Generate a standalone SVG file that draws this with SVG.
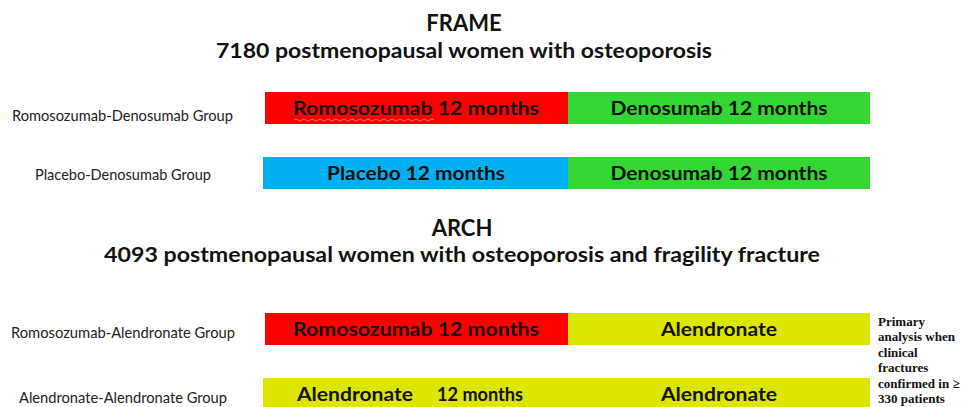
<svg xmlns="http://www.w3.org/2000/svg" width="962" height="407" viewBox="0 0 962 407">
<style>
.h{font-family:Lato,"Open Sans",sans-serif;font-weight:bold;fill:#111;text-anchor:middle}
.b{font-family:Lato,"Open Sans",sans-serif;font-weight:bold;font-size:19px;fill:#111;text-anchor:middle}
.l{font-family:Lato,"Open Sans",sans-serif;font-size:15px;fill:#222}
.n{font-family:"Liberation Serif",serif;font-weight:bold;font-size:13px;fill:#111}
</style>
<rect width="962" height="407" fill="#fff"/>
<g id="frame-title">
<text class="h" x="464" y="31" font-size="22">FRAME</text>
<text class="h" x="464" y="58" font-size="21" textLength="496" lengthAdjust="spacingAndGlyphs">7180 postmenopausal women with osteoporosis</text>
</g>
<g id="arch-title">
<text class="h" x="462" y="236" font-size="22">ARCH</text>
<text class="h" x="462" y="262" font-size="21" textLength="716" lengthAdjust="spacingAndGlyphs">4093 postmenopausal women with osteoporosis and fragility fracture</text>
</g>
<g id="row-romo-deno">
<text class="l" x="12" y="121" textLength="221" lengthAdjust="spacingAndGlyphs">Romosozumab-Denosumab Group</text>
<rect x="265" y="92" width="303" height="32" fill="#ff0000"/>
<rect x="568" y="92" width="302" height="32" fill="#33d633"/>
<text class="b" x="416" y="115" textLength="246" lengthAdjust="spacingAndGlyphs">Romosozumab 12 months</text>
<path d="M294 120 q2 -2 4 0 t4 0 t4 0 t4 0 t4 0 t4 0 t4 0 t4 0 t4 0 t4 0 t4 0 t4 0 t4 0 t4 0 t4 0 t4 0 t4 0 t4 0 t4 0 t4 0 t4 0 t4 0 t4 0 t4 0 t4 0 t4 0 t4 0 t4 0 t4 0 t4 0 t4 0 t4 0 t4 0 t4 0 t4 0" fill="none" stroke="#e87a7a" stroke-width="1"/>
<text class="b" x="719" y="115" textLength="217" lengthAdjust="spacingAndGlyphs">Denosumab 12 months</text>
</g>
<g id="row-placebo-deno">
<text class="l" x="35" y="180" textLength="176" lengthAdjust="spacingAndGlyphs">Placebo-Denosumab Group</text>
<rect x="263" y="157" width="305" height="32" fill="#00b0f0"/>
<rect x="568" y="157" width="302" height="32" fill="#33d633"/>
<text class="b" x="416" y="180" textLength="178" lengthAdjust="spacingAndGlyphs">Placebo 12 months</text>
<text class="b" x="719" y="180" textLength="217" lengthAdjust="spacingAndGlyphs">Denosumab 12 months</text>
</g>
<g id="row-romo-alen">
<text class="l" x="11" y="338" textLength="224" lengthAdjust="spacingAndGlyphs">Romosozumab-Alendronate Group</text>
<rect x="265" y="313" width="303" height="32" fill="#ff0000"/>
<rect x="568" y="313" width="302" height="32" fill="#dce600"/>
<text class="b" x="416" y="336" textLength="246" lengthAdjust="spacingAndGlyphs">Romosozumab 12 months</text>
<text class="b" x="719" y="336" textLength="116" lengthAdjust="spacingAndGlyphs">Alendronate</text>
</g>
<g id="row-alen-alen">
<text class="l" x="19" y="403" textLength="208" lengthAdjust="spacingAndGlyphs">Alendronate-Alendronate Group</text>
<rect x="263" y="378" width="607" height="32" fill="#dce600"/>
<text class="b" x="355" y="401" textLength="116" lengthAdjust="spacingAndGlyphs">Alendronate</text>
<text class="b" x="480" y="401" textLength="86" lengthAdjust="spacingAndGlyphs">12 months</text>
<text class="b" x="719" y="401" textLength="116" lengthAdjust="spacingAndGlyphs">Alendronate</text>
</g>
<g id="note">
<text class="n" x="878" y="326">Primary</text>
<text class="n" x="878" y="341">analysis when</text>
<text class="n" x="878" y="357">clinical</text>
<text class="n" x="878" y="372">fractures</text>
<text class="n" x="878" y="388">confirmed in ≥</text>
<text class="n" x="878" y="403">330 patients</text>
</g>
</svg>
